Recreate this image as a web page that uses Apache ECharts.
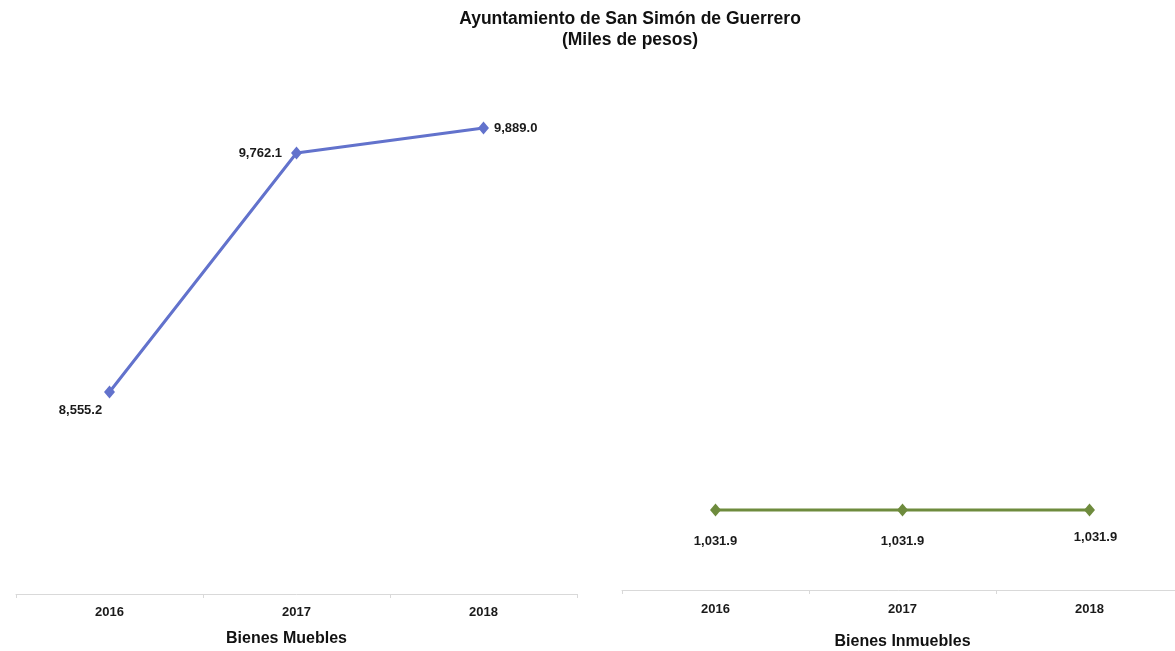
<!DOCTYPE html>
<html>
<head>
<meta charset="utf-8">
<script src="https://cdn.jsdelivr.net/npm/echarts@6/dist/echarts.min.js"></script>
<style>
html,body{margin:0;padding:0;background:#fff;}
#main{width:1175px;height:651px;}
</style>
</head>
<body>
<div id="main"></div>
<script>
const years = ['2016', '2017', '2018'];
const bienesMuebles = [8555.2, 9762.1, 9889.0];
const bienesInmuebles = [1031.9, 1031.9, 1031.9];
const titleText = 'Ayuntamiento de San Simón de Guerrero\n(Miles de pesos)';
const leftName = 'Bienes Muebles';
const rightName = 'Bienes Inmuebles';

const FONT = '"Liberation Sans Narrow", "Arial Narrow", "Liberation Sans", Arial, sans-serif';
const fmt = v => v.toLocaleString('en-US', {minimumFractionDigits: 1, maximumFractionDigits: 1});

const chart = echarts.init(document.getElementById('main'));
const labelStyle = {fontFamily: FONT, fontWeight: 'bold', fontSize: 13, color: '#1a1a1a'};

chart.setOption({
  backgroundColor: '#fff',
  animation: false,
  title: {
    text: titleText,
    left: 625, top: 4,
    textAlign: 'center',
    textStyle: {fontFamily: FONT, fontWeight: 'bold', fontSize: 17.5, color: '#111', lineHeight: 21}
  },
  grid: [
    {left: 16, width: 561, top: 80, bottom: 651 - 594, outerBoundsMode: 'none', containLabel: false},
    {left: 622, width: 561, top: 80, bottom: 651 - 590, outerBoundsMode: 'none', containLabel: false}
  ],
  xAxis: [
    {
      gridIndex: 0, type: 'category', data: years, boundaryGap: true,
      axisLine: {lineStyle: {color: '#d9d9d9', width: 1}},
      axisTick: {show: true, length: 4, lineStyle: {color: '#d9d9d9'}},
      axisLabel: Object.assign({margin: 12}, labelStyle),
      name: leftName, nameLocation: 'middle', nameGap: 37,
      nameTextStyle: {fontFamily: FONT, fontWeight: 'bold', fontSize: 16, color: '#111', padding: [0, 20, 0, 0]}
    },
    {
      gridIndex: 1, type: 'category', data: years, boundaryGap: true,
      axisLine: {lineStyle: {color: '#d9d9d9', width: 1}},
      axisTick: {show: true, length: 4, lineStyle: {color: '#d9d9d9'}},
      axisLabel: Object.assign({margin: 13}, labelStyle),
      name: rightName, nameLocation: 'middle', nameGap: 44,
      nameTextStyle: {fontFamily: FONT, fontWeight: 'bold', fontSize: 16, color: '#111', padding: [0, 0, 0, 0]}
    }
  ],
  yAxis: [
    {gridIndex: 0, type: 'value', min: 7535, max: 10131, show: false, splitLine: {show: false}},
    {gridIndex: 1, type: 'value', min: 0, max: 6578, show: false, splitLine: {show: false}}
  ],
  series: [
    {
      type: 'line', xAxisIndex: 0, yAxisIndex: 0,
      data: bienesMuebles.map((v, i) => {
        const pos = [
          {position: 'bottom', offset: [-29, 0]},
          {position: 'left', offset: [-4, 0]},
          {position: 'right', offset: [0, 1]}
        ][i];
        return {value: v, label: pos};
      }),
      symbol: 'diamond', symbolSize: [11, 13],
      lineStyle: {color: '#6272CC', width: 3},
      itemStyle: {color: '#6272CC'},
      label: Object.assign({show: true, distance: 5, formatter: p => fmt(p.value)}, labelStyle)
    },
    {
      type: 'line', xAxisIndex: 1, yAxisIndex: 1,
      data: bienesInmuebles.map((v, i) => {
        const pos = [
          {offset: [0, 0]},
          {offset: [0, 0]},
          {offset: [6, -4]}
        ][i];
        return {value: v, label: pos};
      }),
      symbol: 'diamond', symbolSize: [11, 13],
      lineStyle: {color: '#6E8B3D', width: 3},
      itemStyle: {color: '#6E8B3D'},
      label: Object.assign({show: true, position: 'bottom', distance: 18, formatter: p => fmt(p.value)}, labelStyle)
    }
  ]
});
</script>
</body>
</html>
